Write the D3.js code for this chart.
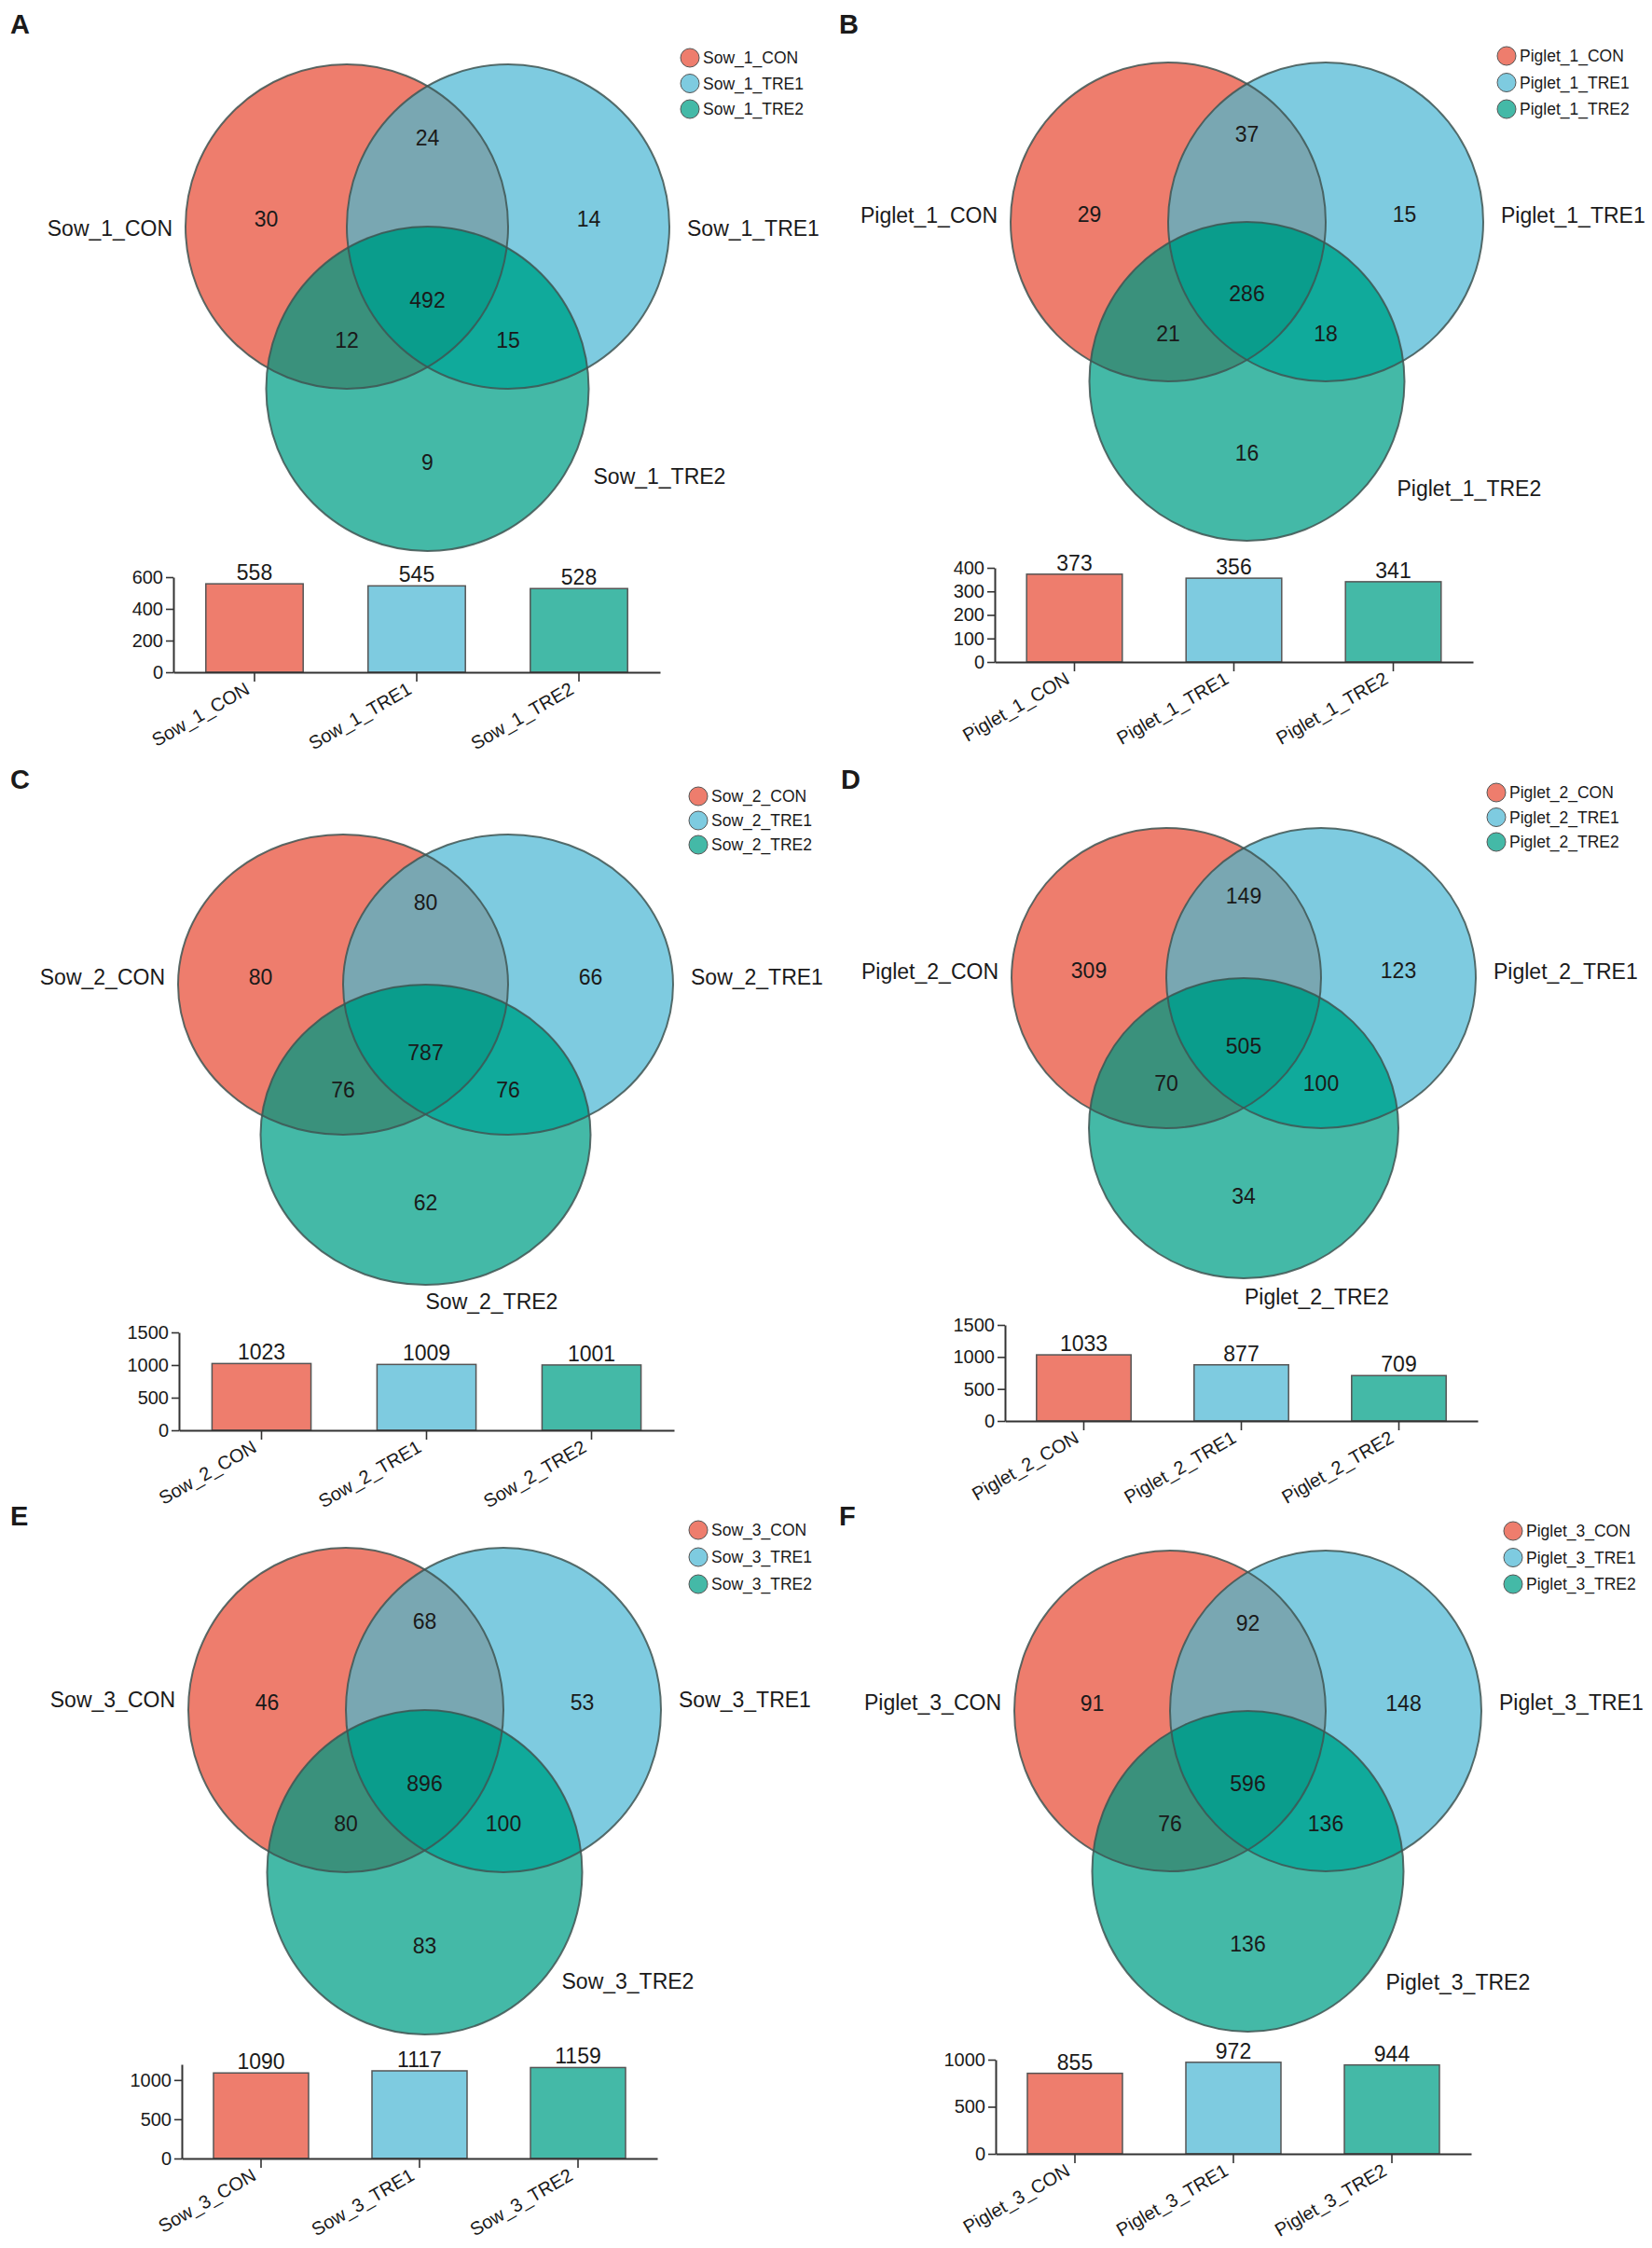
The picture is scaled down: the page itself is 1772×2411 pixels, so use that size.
<!DOCTYPE html>
<html>
<head>
<meta charset="utf-8">
<script src="https://cdn.jsdelivr.net/npm/d3@7"></script>
<style>
  body { margin: 0; background: #fff; }
  text { font-family: "Liberation Sans", Arial, Helvetica, sans-serif; fill: #1a1a1a; }
</style>
</head>
<body>
<svg id="fig" width="1772" height="2411"></svg>
<script>
// ---- data ----
const panelLetters = ["A", "B", "C", "D", "E", "F"];

const groupNames = [
  ["Sow_1_CON", "Sow_1_TRE1", "Sow_1_TRE2"],
  ["Piglet_1_CON", "Piglet_1_TRE1", "Piglet_1_TRE2"],
  ["Sow_2_CON", "Sow_2_TRE1", "Sow_2_TRE2"],
  ["Piglet_2_CON", "Piglet_2_TRE1", "Piglet_2_TRE2"],
  ["Sow_3_CON", "Sow_3_TRE1", "Sow_3_TRE2"],
  ["Piglet_3_CON", "Piglet_3_TRE1", "Piglet_3_TRE2"]
];

// region order: only CON, only TRE1, only TRE2, CON&TRE1, CON&TRE2, TRE1&TRE2, all three
const regionKeys = ["A", "B", "C", "AB", "AC", "BC", "ABC"];
const vennCounts = [
  [30, 14, 9, 24, 12, 15, 492],
  [29, 15, 16, 37, 21, 18, 286],
  [80, 66, 62, 80, 76, 76, 787],
  [309, 123, 34, 149, 70, 100, 505],
  [46, 53, 83, 68, 80, 100, 896],
  [91, 148, 136, 92, 76, 136, 596]
];

const barTotals = [
  [558, 545, 528],
  [373, 356, 341],
  [1023, 1009, 1001],
  [1033, 877, 709],
  [1090, 1117, 1159],
  [855, 972, 944]
];

const barMax = [600, 400, 1500, 1500, 1200, 1000];
const barTicks = [
  [0, 200, 400, 600],
  [0, 100, 200, 300, 400],
  [0, 500, 1000, 1500],
  [0, 500, 1000, 1500],
  [0, 500, 1000],
  [0, 500, 1000]
];

// ---- layout / styling ----
const groupColors = ["#EE7D6D", "#7ECBE0", "#44B9A7"];
const regionColors = { A: "#EE7D6D", B: "#7ECBE0", C: "#44B9A7", AB: "#79A7B2", AC: "#3A917C", BC: "#10AA9B", ABC: "#0A9D8C" };

const layout = [
  { letter: [11, 36],   venn: { x: 372,  y: 243,  rx: 173, ry: 174 }, labY: 2,   lab3: [178, 94],  leg: { x: 740,  y: 62,   dy: 27.5 }, bar: { x0: 186,  x1: 708,  y0: 721,  y1: 619 } },
  { letter: [900, 36],  venn: { x: 1253, y: 238,  rx: 169, ry: 171 }, labY: -7,  lab3: [161, 115], leg: { x: 1616, y: 60,   dy: 28.5 }, bar: { x0: 1067, x1: 1580, y0: 710,  y1: 609 } },
  { letter: [11, 846],  venn: { x: 368,  y: 1056, rx: 177, ry: 161 }, labY: -8,  lab3: [0, 179],   leg: { x: 749,  y: 854,  dy: 26 },   bar: { x0: 192,  x1: 723,  y0: 1534, y1: 1429 } },
  { letter: [902, 846], venn: { x: 1251, y: 1049, rx: 166, ry: 161 }, labY: -7,  lab3: [1, 181],   leg: { x: 1605, y: 850,  dy: 26.5 }, bar: { x0: 1078, x1: 1585, y0: 1524, y1: 1421 } },
  { letter: [11, 1636], venn: { x: 371,  y: 1834, rx: 169, ry: 174 }, labY: -11, lab3: [147, 117], leg: { x: 749,  y: 1641, dy: 29 },   bar: { x0: 195,  x1: 705,  y0: 2315, y1: 2214 } },
  { letter: [900, 1636],venn: { x: 1255, y: 1835, rx: 167, ry: 172 }, labY: -9,  lab3: [148, 119], leg: { x: 1623, y: 1642, dy: 28.5 }, bar: { x0: 1068, x1: 1578, y0: 2310, y1: 2209 } }
];

// label position of each region count, in units of (rx, ry) from the CON ellipse centre
const regionOffsets = { A: [-0.5, -0.05], B: [1.5, -0.05], C: [0.5, 1.45], AB: [0.5, -0.55], AC: [0, 0.7], BC: [1, 0.7], ABC: [0.5, 0.45] };

const svg = d3.select("#fig");
const defs = svg.append("defs");

function drawPanel(i) {
  const L = layout[i];
  const v = L.venn;
  const names = groupNames[i];
  const g = svg.append("g").attr("class", "panel-" + panelLetters[i]);

  // panel letter
  g.append("text")
    .attr("x", L.letter[0]).attr("y", L.letter[1])
    .attr("font-size", 29).attr("font-weight", "bold").attr("fill", "#000")
    .text(panelLetters[i]);

  // ellipse centres
  const centres = [
    { cx: v.x, cy: v.y },
    { cx: v.x + v.rx, cy: v.y },
    { cx: v.x + v.rx / 2, cy: v.y + v.ry }
  ];

  ["A", "B"].forEach((k, j) => {
    defs.append("clipPath").attr("id", `clip${k}${i}`)
      .append("ellipse")
      .attr("cx", centres[j].cx).attr("cy", centres[j].cy)
      .attr("rx", v.rx).attr("ry", v.ry);
  });

  const ell = (sel, j, fill) => sel.append("ellipse")
    .attr("cx", centres[j].cx).attr("cy", centres[j].cy)
    .attr("rx", v.rx).attr("ry", v.ry)
    .attr("fill", fill);

  const venn = g.append("g");
  ell(venn, 0, regionColors.A);
  ell(venn, 1, regionColors.B);
  ell(venn.append("g").attr("clip-path", `url(#clipA${i})`), 1, regionColors.AB);
  ell(venn, 2, regionColors.C);
  ell(venn.append("g").attr("clip-path", `url(#clipA${i})`), 2, regionColors.AC);
  ell(venn.append("g").attr("clip-path", `url(#clipB${i})`), 2, regionColors.BC);
  ell(venn.append("g").attr("clip-path", `url(#clipA${i})`).append("g").attr("clip-path", `url(#clipB${i})`), 2, regionColors.ABC);

  // outlines
  venn.selectAll("ellipse.outline")
    .data(centres)
    .join("ellipse")
      .attr("class", "outline")
      .attr("cx", d => d.cx).attr("cy", d => d.cy)
      .attr("rx", v.rx).attr("ry", v.ry)
      .attr("fill", "none")
      .attr("stroke", "#3f5552")
      .attr("stroke-opacity", 0.85)
      .attr("stroke-width", 2);

  // region counts
  g.selectAll("text.count")
    .data(regionKeys.map((k, j) => ({ key: k, value: vennCounts[i][j] })))
    .join("text")
      .attr("class", "count")
      .attr("x", d => v.x + regionOffsets[d.key][0] * v.rx)
      .attr("y", d => v.y + regionOffsets[d.key][1] * v.ry)
      .attr("dy", "0.36em")
      .attr("text-anchor", "middle")
      .attr("font-size", 23)
      .text(d => d.value);

  // set names around the diagram
  g.append("text")
    .attr("x", v.x - v.rx - 14).attr("y", v.y + L.labY).attr("dy", "0.36em")
    .attr("text-anchor", "end").attr("font-size", 23)
    .text(names[0]);
  g.append("text")
    .attr("x", v.x + 2 * v.rx + 19).attr("y", v.y + L.labY).attr("dy", "0.36em")
    .attr("font-size", 23)
    .text(names[1]);
  g.append("text")
    .attr("x", centres[2].cx + L.lab3[0]).attr("y", centres[2].cy + L.lab3[1]).attr("dy", "0.36em")
    .attr("font-size", 23)
    .text(names[2]);

  // legend
  const leg = g.selectAll("g.leg")
    .data(names)
    .join("g")
      .attr("class", "leg")
      .attr("transform", (d, j) => `translate(${L.leg.x},${L.leg.y + j * L.leg.dy})`);
  leg.append("circle")
    .attr("r", 10)
    .attr("fill", (d, j) => groupColors[j])
    .attr("stroke", "#555").attr("stroke-width", 1);
  leg.append("text")
    .attr("x", 14).attr("dy", "0.36em")
    .attr("font-size", 17.5).attr("fill", "#333")
    .text(d => d);

  // bar chart of totals
  const B = L.bar;
  const xScale = d3.scaleBand()
    .domain(names)
    .range([B.x0, B.x1])
    .paddingInner(0.4)
    .paddingOuter(0.2);
  const yScale = d3.scaleLinear()
    .domain([0, barMax[i]])
    .range([B.y0, B.y1]);

  const bars = g.append("g");
  bars.selectAll("rect")
    .data(names.map((n, j) => ({ name: n, value: barTotals[i][j], color: groupColors[j] })))
    .join("rect")
      .attr("x", d => xScale(d.name))
      .attr("y", d => yScale(d.value))
      .attr("width", xScale.bandwidth())
      .attr("height", d => yScale(0) - yScale(d.value))
      .attr("fill", d => d.color)
      .attr("stroke", "#555")
      .attr("stroke-width", 1.5);

  bars.selectAll("text.val")
    .data(names.map((n, j) => ({ name: n, value: barTotals[i][j] })))
    .join("text")
      .attr("class", "val")
      .attr("x", d => xScale(d.name) + xScale.bandwidth() / 2)
      .attr("y", d => yScale(d.value) - 4)
      .attr("text-anchor", "middle")
      .attr("font-size", 23)
      .text(d => d.value);

  const yAxisG = g.append("g")
    .attr("transform", `translate(${B.x0},0)`)
    .call(d3.axisLeft(yScale)
      .tickValues(barTicks[i])
      .tickFormat(d3.format("d"))
      .tickSize(8).tickSizeOuter(0).tickPadding(3));

  const xAxisG = g.append("g")
    .attr("transform", `translate(0,${B.y0})`)
    .call(d3.axisBottom(xScale).tickSize(10).tickSizeOuter(0));

  [yAxisG, xAxisG].forEach(ax => {
    ax.select(".domain").attr("stroke", "#333").attr("stroke-width", 2);
    ax.selectAll(".tick line").attr("stroke", "#333").attr("stroke-width", 1.6);
    ax.selectAll("text").attr("fill", "#1a1a1a").attr("font-size", 20)
      .attr("font-family", "'Liberation Sans', Arial, sans-serif");
  });

  xAxisG.selectAll(".tick text")
    .attr("x", 0).attr("y", 0).attr("dy", 0)
    .attr("text-anchor", "end")
    .attr("transform", "translate(-4,22) rotate(-30)");
}

panelLetters.forEach((d, i) => drawPanel(i));
</script>
</body>
</html>
